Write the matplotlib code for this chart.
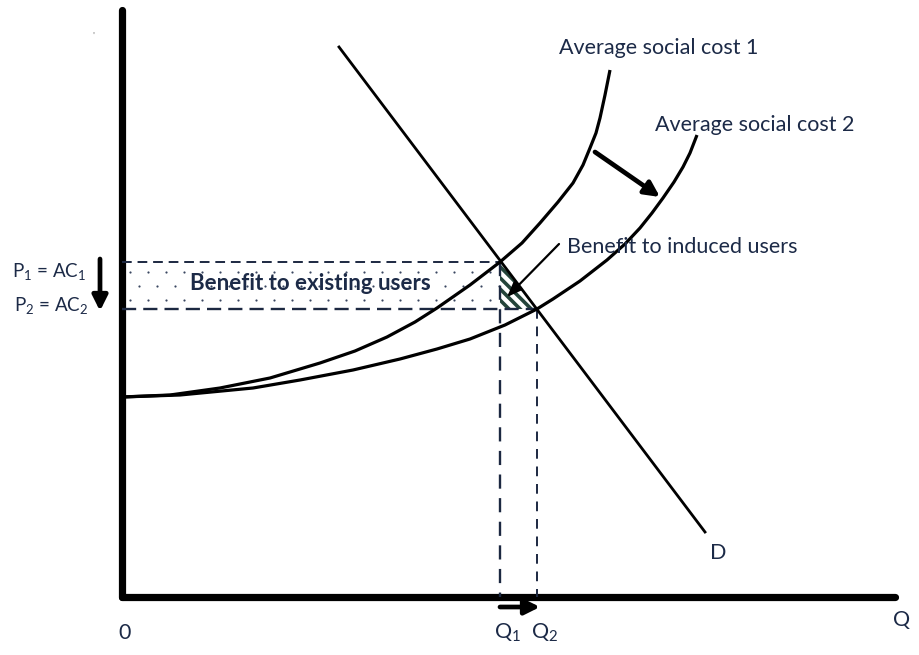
"""Road improvement diagram: benefits to existing and induced users."""

import matplotlib

matplotlib.use("Agg")

import matplotlib.pyplot as plt
import numpy as np
from matplotlib.patches import Polygon

plt.rcParams["font.family"] = ["Lato", "DejaVu Sans"]
plt.rcParams["mathtext.fontset"] = "custom"
plt.rcParams["mathtext.rm"] = "Lato"
plt.rcParams["mathtext.it"] = "Lato"
plt.rcParams["hatch.linewidth"] = 2.6

TEXT = "#1c2a47"
DASH = "#1c2841"

# diagram coordinates (x to the right, y downwards, as in the picture)
origin = (122, 597)
y_axis_top = 10
x_axis_right = 895

demand_x = [339, 705]
demand_y = [47, 532]

ac1_x = [122, 170, 220, 270, 320, 355, 387, 415, 437, 470, 500, 522, 540, 558,
         573, 583, 590, 596, 600, 605, 610]
ac1_y = [397, 395, 388, 378, 363, 351, 337, 322, 308, 285, 262, 243, 223, 202,
         183, 165, 148, 133, 118, 95, 70]

ac2_x = [122, 180, 253, 300, 353, 400, 437, 470, 505, 537, 553, 580, 607, 625,
         640, 652, 663, 674, 683, 690, 697]
ac2_y = [397, 395, 388, 380, 370, 359, 349, 339, 325, 309, 299, 281, 260, 244,
         228, 213, 198, 182, 167, 153, 135]

q1, q2 = 500, 537
p1, p2 = 262, 309

fig = plt.figure(figsize=(9.2, 6.55), dpi=100)
ax = fig.add_axes([0, 0, 1, 1])
ax.set_xlim(0, 920)
ax.set_ylim(655, 0)
ax.axis("off")

# axes
ax.plot([origin[0], origin[0]], [y_axis_top, origin[1]], color="black",
        lw=5.2, solid_capstyle="round")
ax.plot([origin[0], x_axis_right], [origin[1], origin[1]], color="black",
        lw=5.2, solid_capstyle="round")

# benefit to existing users (dotted rectangle)
dot_x, dot_y = np.meshgrid(np.arange(origin[0] + 8, q1 - 4, 18),
                           np.arange(p1 + 10, p2 - 4, 14))
dot_x = dot_x + (np.arange(dot_x.shape[0])[:, None] % 2) * 9
ax.scatter(dot_x.ravel(), dot_y.ravel(), s=2.5, color="#3a4660", lw=0)
ax.plot([origin[0], q1], [p1, p1], color=DASH, lw=1.4, dashes=(5, 3))
ax.plot([origin[0], q2], [p2, p2], color=DASH, lw=1.7, dashes=(6, 3))
ax.plot([q1, q1], [p1, origin[1]], color=DASH, lw=1.7, dashes=(6, 4))
ax.plot([q2, q2], [p2, origin[1]], color=DASH, lw=1.4, dashes=(5, 4))

# benefit to induced users (triangle)
ax.add_patch(Polygon([(q1, p1), (q1, p2), (q2, p2)], closed=True, facecolor="none",
                     edgecolor="#24443a", hatch="\\\\\\", lw=0))

# curves
ax.plot(demand_x, demand_y, color="black", lw=2.0)
ax.plot(ac1_x, ac1_y, color="black", lw=2.3, solid_capstyle="butt",
        solid_joinstyle="round")
ax.plot(ac2_x, ac2_y, color="black", lw=2.3, solid_capstyle="butt",
        solid_joinstyle="round")

# arrows
arrow_kw = dict(arrowstyle="-|>,head_length=0.9,head_width=0.45", color="black",
                lw=3.4, shrinkA=0, shrinkB=0)
ax.annotate("", xy=(660, 197), xytext=(595, 152), arrowprops=arrow_kw)
ax.annotate("", xy=(100, 311), xytext=(100, 259), arrowprops=arrow_kw)
ax.annotate("", xy=(540, 607), xytext=(500, 607), arrowprops=arrow_kw)
ax.annotate("", xy=(507, 297), xytext=(559, 244),
            arrowprops=dict(arrowstyle="-|>,head_length=0.9,head_width=0.35",
                            color="black", lw=1.6, shrinkA=0, shrinkB=0))

# labels
fs = 15.5
ax.text(559, 48, "Average social cost 1", color=TEXT, fontsize=fs, va="center")
ax.text(655, 125, "Average social cost 2", color=TEXT, fontsize=fs, va="center")
ax.text(567, 247, "Benefit to induced users", color=TEXT, fontsize=fs, va="center")
ax.text(310, 284, "Benefit to existing users", color=TEXT, fontsize=16,
        fontweight="bold", ha="center", va="center")
ax.text(12, 272, r"P$_1$ = AC$_1$", color=TEXT, fontsize=13.5, va="center")
ax.text(14, 306, r"P$_2$ = AC$_2$", color=TEXT, fontsize=13.5, va="center")
ax.text(718, 553, "D", color=TEXT, fontsize=fs, ha="center", va="center")
ax.text(125, 633, "0", color=TEXT, fontsize=fs, ha="center", va="center")
ax.text(902, 620, "Q", color=TEXT, fontsize=fs, ha="center", va="center")
ax.text(494, 633, r"Q$_1$", color=TEXT, fontsize=fs, va="center")
ax.text(531, 633, r"Q$_2$", color=TEXT, fontsize=fs, va="center")
ax.text(93, 36, "'", color="#777777", fontsize=7, ha="center", va="center")

fig.savefig("out.png", dpi=100)
plt.close(fig)
